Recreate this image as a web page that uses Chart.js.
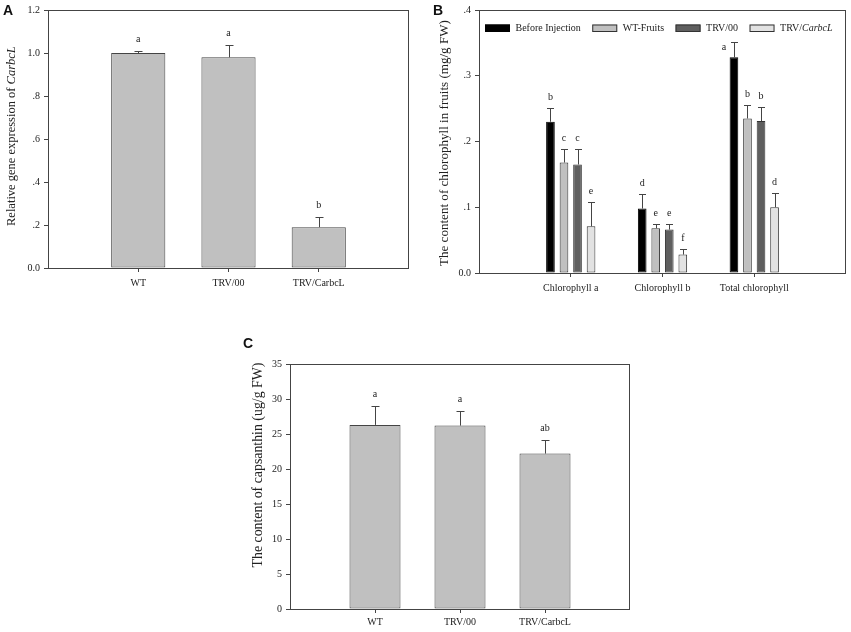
<!DOCTYPE html>
<html>
<head>
<meta charset="utf-8">
<script src="https://cdn.jsdelivr.net/npm/chart.js@4.4.1/dist/chart.umd.min.js"></script>
<style>
  body { margin: 0; background: #fff; width: 851px; height: 632px; position: relative; overflow: hidden; }
  canvas { position: absolute; }
  .tag { position: absolute; font: bold 14px "Liberation Sans", Arial, sans-serif; line-height: 14px; color: #111; }
</style>
</head>
<body>
<canvas id="chartA" width="425" height="300" style="left:0;top:0"></canvas>
<canvas id="chartB" width="421" height="300" style="left:430px;top:0"></canvas>
<canvas id="chartC" width="410" height="302" style="left:230px;top:330px"></canvas>
<div class="tag" style="left:3px;top:3px">A</div>
<div class="tag" style="left:433px;top:3px">B</div>
<div class="tag" style="left:243px;top:336px">C</div>
<script>
// --- panel A: relative expression ---
const catsA = ['WT', 'TRV/00', 'TRV/CarbcL'];
const exprA = [1.0, 0.98, 0.19];
const exprErrA = [0.01, 0.055, 0.048];
const lettersA = ['a', 'a', 'b'];
const ticksA = [0, 0.2, 0.4, 0.6, 0.8, 1.0, 1.2];

// --- panel B: chlorophyll ---
const groupsB = ['Chlorophyll a', 'Chlorophyll b', 'Total chlorophyll'];
const seriesB = ['Before Injection', 'WT-Fruits', 'TRV/00', 'TRV/CarbcL'];
const beforeB = [0.230, 0.098, 0.328];
const beforeErrB = [0.021, 0.022, 0.024];
const wtB = [0.168, 0.068, 0.235];
const wtErrB = [0.021, 0.006, 0.020];
const trv00B = [0.165, 0.066, 0.231];
const trv00ErrB = [0.024, 0.008, 0.022];
const trvCB = [0.071, 0.028, 0.100];
const trvCErrB = [0.037, 0.009, 0.022];
const lettersB = [['b', 'd', 'a'], ['c', 'e', 'b'], ['c', 'e', 'b'], ['e', 'f', 'd']];
const ticksB = [0, 0.1, 0.2, 0.3, 0.4];

// --- panel C: capsanthin ---
const catsC = ['WT', 'TRV/00', 'TRV/CarbcL'];
const capC = [26.3, 26.2, 22.2];
const capErrC = [2.7, 2.1, 1.9];
const lettersC = ['a', 'a', 'ab'];
const ticksC = [0, 5, 10, 15, 20, 25, 30, 35];

const SERIF = '"Liberation Serif", "Times New Roman", serif';
const INK = '#222';
const LINE = '#444';

// empty slot at each end, like the SigmaPlot layout
const pad = arr => [null, ...arr, null];
const padLabels = arr => ['', ...arr, ''];

// text with one italic word
function richParts(text, italicWord) {
  if (!italicWord || text.indexOf(italicWord) < 0) return [{ t: text, it: false }];
  const i = text.indexOf(italicWord);
  return [
    { t: text.slice(0, i), it: false },
    { t: italicWord, it: true },
    { t: text.slice(i + italicWord.length), it: false }
  ].filter(p => p.t);
}
function partsWidth(ctx, parts, size) {
  let w = 0;
  parts.forEach(p => {
    ctx.font = (p.it ? 'italic ' : '') + size + 'px ' + SERIF;
    w += ctx.measureText(p.t).width;
  });
  return w;
}
function drawParts(ctx, parts, x, y, size) {
  parts.forEach(p => {
    ctx.font = (p.it ? 'italic ' : '') + size + 'px ' + SERIF;
    ctx.fillText(p.t, x, y);
    x += ctx.measureText(p.t).width;
  });
  return x;
}

const panelDecor = {
  id: 'panelDecor',
  afterDatasetsDraw(chart, args, opts) {
    const ctx = chart.ctx;
    const ys = chart.scales.y;
    ctx.save();
    ctx.strokeStyle = LINE;
    ctx.lineWidth = 1;
    ctx.fillStyle = INK;
    ctx.textAlign = 'center';
    ctx.textBaseline = 'middle';
    ctx.font = opts.letterSize + 'px ' + SERIF;
    chart.data.datasets.forEach((ds, di) => {
      const meta = chart.getDatasetMeta(di);
      ds.errors.forEach((e, i) => {
        const bar = meta.data[i + 1];
        const v = ds.data[i + 1];
        const yb = ys.getPixelForValue(v);
        const yt = Math.round(ys.getPixelForValue(v + e)) + 0.5;
        const x = Math.round(bar.x) + 0.5;
        ctx.beginPath();
        ctx.moveTo(x, yb);
        ctx.lineTo(x, yt);
        ctx.moveTo(x - opts.cap / 2, yt);
        ctx.lineTo(x + opts.cap / 2, yt);
        ctx.stroke();
        const n = (opts.nudge && opts.nudge[di + '-' + i]) || [0, -opts.letterGap];
        ctx.fillText(ds.letters[i], bar.x + n[0], yt + n[1]);
      });
    });
    ctx.restore();
  },
  afterDraw(chart, args, opts) {
    const ctx = chart.ctx;
    const a = chart.chartArea;
    ctx.save();
    // frame
    ctx.strokeStyle = LINE;
    ctx.lineWidth = 1;
    ctx.strokeRect(Math.round(a.left) + 0.5, Math.round(a.top) + 0.5,
      Math.round(a.right - a.left) - 1, Math.round(a.bottom - a.top));
    // y title, sized to the length it has in the figure
    const t = opts.title;
    const parts = richParts(t.text, t.italic);
    const size = 14 * t.span / partsWidth(ctx, parts, 14);
    ctx.fillStyle = INK;
    ctx.textBaseline = 'middle';
    ctx.textAlign = 'left';
    ctx.translate(t.x, t.y);
    ctx.rotate(-Math.PI / 2);
    drawParts(ctx, parts, -t.span / 2, 0, size);
    ctx.restore();

    // in-plot legend
    if (opts.legend) {
      const L = opts.legend;
      ctx.save();
      ctx.textBaseline = 'middle';
      ctx.textAlign = 'left';
      let x = a.left + L.dx;
      const yb = a.top + L.dy;
      chart.data.datasets.forEach(ds => {
        ctx.fillStyle = ds.backgroundColor;
        ctx.fillRect(x, yb, L.boxW, L.boxH);
        ctx.strokeStyle = ds.borderColor;
        ctx.lineWidth = 1;
        ctx.strokeRect(x + 0.5, yb + 0.5, L.boxW - 1, L.boxH - 1);
        x += L.boxW + L.textGap;
        ctx.fillStyle = INK;
        x = drawParts(ctx, richParts(ds.label, L.italic), x, yb + L.boxH / 2 + 0.5, L.size);
        x += L.itemGap;
      });
      ctx.restore();
    }
  }
};

function axes(cats, yMin, yMax, step, fmt, yWidth, xHeight, xPad) {
  const last = cats.length + 1;
  return {
    x: {
      offset: false,
      grid: {
        offset: false,
        drawOnChartArea: false,
        tickLength: 4,
        color: c => (c.index === 0 || c.index === last) ? 'rgba(0,0,0,0)' : LINE
      },
      border: { display: false },
      ticks: { autoSkip: false, maxRotation: 0, padding: xPad, color: INK, font: { family: SERIF, size: 10 } },
      afterFit: s => { s.height = xHeight; }
    },
    y: {
      min: yMin,
      max: yMax,
      grid: { drawOnChartArea: false, tickLength: 4, color: LINE },
      border: { display: false },
      ticks: { stepSize: step, padding: 4, color: INK, font: { family: SERIF, size: 10 }, callback: fmt },
      afterFit: s => { s.width = yWidth; }
    }
  };
}

const fmtDot = v => v === 0 ? '0.0' : v.toFixed(1).replace(/^0/, '');

// panel A
new Chart(document.getElementById('chartA'), {
  type: 'bar',
  data: {
    labels: padLabels(catsA),
    datasets: [{
      label: 'Relative expression',
      data: pad(exprA),
      errors: exprErrA,
      letters: lettersA,
      backgroundColor: '#c0c0c0',
      borderColor: '#444',
      borderWidth: 1,
      borderSkipped: false,
      categoryPercentage: 1,
      barPercentage: 0.6
    }]
  },
  options: {
    responsive: false,
    animation: false,
    layout: { padding: { left: 0, top: 8, right: 16, bottom: 0 } },
    scales: axes(catsA, ticksA[0], ticksA[ticksA.length - 1], 0.2, fmtDot, 48, 32, 5),
    plugins: {
      legend: { display: false },
      tooltip: { enabled: false },
      panelDecor: {
        cap: 8, letterSize: 10, letterGap: 12,
        title: { text: 'Relative gene expression of CarbcL', italic: 'CarbcL', x: 12, y: 136, span: 180 }
      }
    }
  },
  plugins: [panelDecor]
});

// panel B
const fillsB = ['#000000', '#c0c0c0', '#5f5f5f', '#e2e2e2'];
const edgesB = ['#000000', '#333333', '#333333', '#333333'];
const valsB = [beforeB, wtB, trv00B, trvCB];
const errsB = [beforeErrB, wtErrB, trv00ErrB, trvCErrB];
new Chart(document.getElementById('chartB'), {
  type: 'bar',
  data: {
    labels: padLabels(groupsB),
    datasets: seriesB.map((name, k) => ({
      label: name,
      data: pad(valsB[k]),
      errors: errsB[k],
      letters: lettersB[k],
      backgroundColor: fillsB[k],
      borderColor: edgesB[k],
      borderWidth: 1,
      borderSkipped: false,
      categoryPercentage: 0.59,
      barPercentage: 0.64
    }))
  },
  options: {
    responsive: false,
    animation: false,
    layout: { padding: { left: 0, top: 10, right: 4, bottom: 0 } },
    scales: axes(groupsB, ticksB[0], ticksB[ticksB.length - 1], 0.1, fmtDot, 49, 27, 5),
    plugins: {
      legend: { display: false },
      tooltip: { enabled: false },
      panelDecor: {
        cap: 7, letterSize: 10, letterGap: 11,
        nudge: { '0-2': [-10, 5] },
        title: { text: 'The content of chlorophyll in fruits (mg/g FW)', x: 14.5, y: 143, span: 246 },
        legend: { dx: 6, dy: 14.5, boxW: 25, boxH: 7.5, textGap: 5.5, itemGap: 11.5, size: 10, italic: 'CarbcL' }
      }
    }
  },
  plugins: [panelDecor]
});

// panel C
new Chart(document.getElementById('chartC'), {
  type: 'bar',
  data: {
    labels: padLabels(catsC),
    datasets: [{
      label: 'Capsanthin',
      data: pad(capC),
      errors: capErrC,
      letters: lettersC,
      backgroundColor: '#c0c0c0',
      borderColor: '#444',
      borderWidth: 1,
      borderSkipped: false,
      categoryPercentage: 1,
      barPercentage: 0.6
    }]
  },
  options: {
    responsive: false,
    animation: false,
    layout: { padding: { left: 0, top: 34, right: 10, bottom: 0 } },
    scales: axes(catsC, ticksC[0], ticksC[ticksC.length - 1], 5, v => String(v), 60, 23, 3),
    plugins: {
      legend: { display: false },
      tooltip: { enabled: false },
      panelDecor: {
        cap: 8, letterSize: 10, letterGap: 12,
        title: { text: 'The content of capsanthin (ug/g FW)', x: 28.5, y: 135, span: 205 }
      }
    }
  },
  plugins: [panelDecor]
});
</script>
</body>
</html>
